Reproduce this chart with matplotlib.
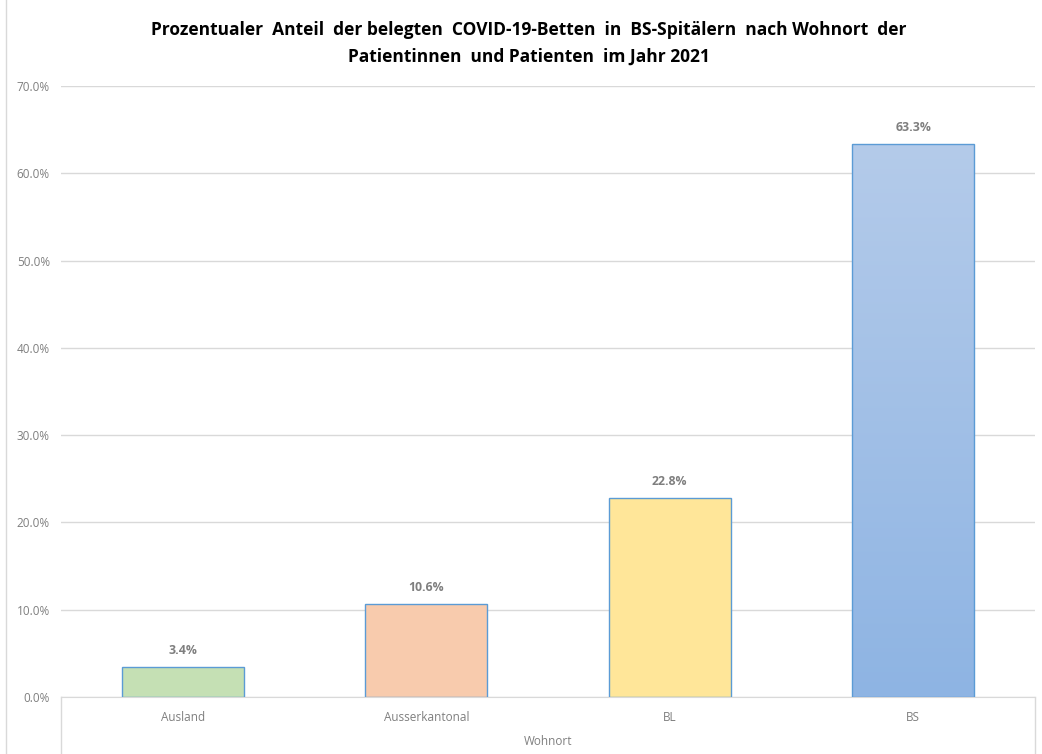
import numpy as np
import matplotlib
matplotlib.use("Agg")
import matplotlib.pyplot as plt
from matplotlib.lines import Line2D
from matplotlib.colors import LinearSegmentedColormap

# data
categories = ["Ausland", "Ausserkantonal", "BL", "BS"]
values = [3.4, 10.6, 22.8, 63.3]
bar_colors = ["#c5e0b4", "#f8cbad", "#ffe699", "#9dbde6"]
gradient_top = "#b4cbea"
gradient_bottom = "#8eb4e3"

plt.rcParams['font.family'] = ['Open Sans', 'DejaVu Sans']
gray = "#7f7f7f"

fig = plt.figure(figsize=(10.42, 7.54), dpi=100)
ax = fig.add_axes([61/1042, 57/754, 974/1042, 611/754])

x = np.arange(len(categories))
bars = ax.bar(x, values, width=0.5, color=bar_colors, edgecolor="#5b9bd5",
              linewidth=1.0, zorder=3)

# gradient fill on the BS bar
cmap = LinearSegmentedColormap.from_list("g", [gradient_bottom, gradient_top])
b = bars[3]
grad = np.linspace(0, 1, 256).reshape(-1, 1)
im = ax.imshow(grad, cmap=cmap, aspect="auto", origin="lower",
               extent=[b.get_x(), b.get_x() + b.get_width(), 0, b.get_height()],
               zorder=3.5)
im.set_clip_path(b)
b.set_facecolor("none")
b.set_zorder(4)

for xi, v in zip(x, values):
    ax.text(xi, v + 1.2, f"{v:.1f}%", ha="center", va="bottom",
            fontsize=8.8, fontweight="bold", color=gray)

ax.set_xlim(-0.5, 3.5)
ax.set_ylim(0, 70)
ax.set_yticks(np.arange(0, 71, 10))
ax.set_yticklabels([f"{t:.1f}%" for t in np.arange(0, 71, 10)])
ax.yaxis.grid(True, color="#d9d9d9", linewidth=1.0, zorder=0)
ax.set_axisbelow(True)
ax.set_xticks(x)
ax.set_xticklabels(categories)
ax.tick_params(axis="both", length=0, labelsize=8.5, labelcolor=gray)
ax.tick_params(axis="x", pad=10)
ax.tick_params(axis="y", pad=8)
ax.set_xlabel("Wohnort", fontsize=8.5, color=gray, labelpad=8)

for s in ["top", "right", "left"]:
    ax.spines[s].set_visible(False)
ax.spines["bottom"].set_color("#d9d9d9")

# box lines below the axis
y0 = 57 / 754
for xf in [61/1042, 1035/1042]:
    fig.add_artist(Line2D([xf, xf], [0, y0], color="#d9d9d9", lw=1.0))
fig.add_artist(Line2D([6/1042, 6/1042], [0, 1], color="#d9d9d9", lw=1.0))

fig.text(529/1042, 1 - 30/754,
         "Prozentualer  Anteil  der belegten  COVID-19-Betten  in  BS-Spitälern  nach Wohnort  der",
         ha="center", va="center", fontsize=12.5, fontweight="bold", color="black")
fig.text(529/1042, 1 - 57/754, "Patientinnen  und Patienten  im Jahr 2021",
         ha="center", va="center", fontsize=12.5, fontweight="bold", color="black")

fig.savefig("out.png", dpi=100)
